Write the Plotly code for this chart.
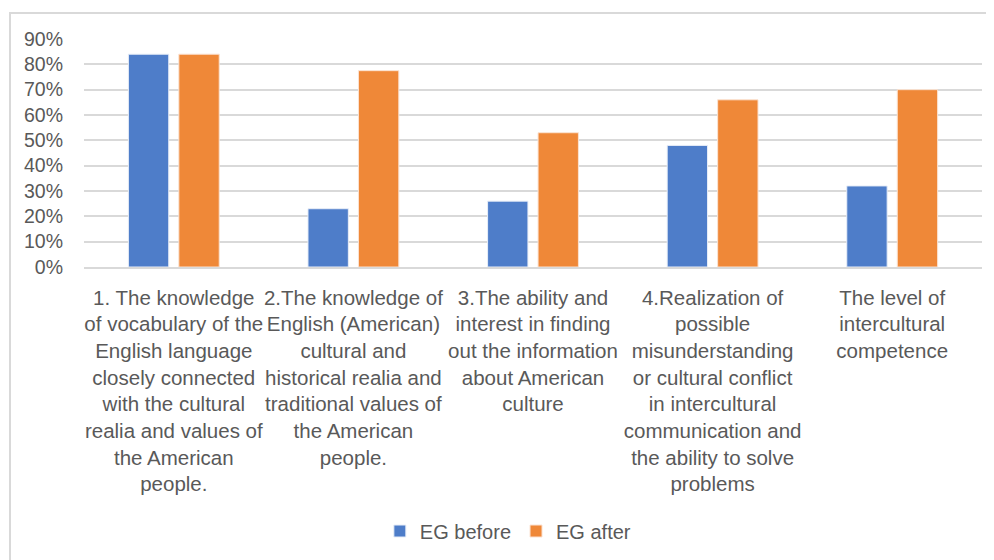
import plotly.graph_objects as go

categories = [
    "1. The knowledge<br>of vocabulary of the<br>English language<br>closely connected<br>with the cultural<br>realia and values of<br>the American<br>people.",
    "2.The knowledge of<br>English (American)<br>cultural and<br>historical realia and<br>traditional values of<br>the American<br>people.",
    "3.The ability and<br>interest in finding<br>out the information<br>about American<br>culture",
    "4.Realization of<br>possible<br>misunderstanding<br>or cultural conflict<br>in intercultural<br>communication and<br>the ability to solve<br>problems",
    "The level of<br>intercultural<br>competence",
]
eg_before = [0.84, 0.23, 0.26, 0.48, 0.32]
eg_after = [0.84, 0.775, 0.53, 0.66, 0.70]
series_names = ["EG before", "EG after"]
y_ticks = [0, 0.1, 0.2, 0.3, 0.4, 0.5, 0.6, 0.7, 0.8, 0.9]

FONT = "Liberation Sans, Arial, sans-serif"
GRAY = "#595959"

# page body has an 8px margin, so the figure is laid out 8px up/left
L, T, B = 76, 31, 301
PW, PH = 898, 228

fig = go.Figure()
fig.add_trace(go.Bar(x=categories, y=eg_before, name=series_names[0],
                     marker=dict(color="#4e7dc9", line=dict(color="#e8eef8", width=1))))
fig.add_trace(go.Bar(x=categories, y=eg_after, name=series_names[1],
                     marker=dict(color="#ef8838", line=dict(color="#fbe3d2", width=1))))

fig.update_layout(
    width=994, height=560,
    margin=dict(l=L, r=994 - L - PW, t=T, b=B),
    paper_bgcolor="white", plot_bgcolor="white",
    barmode="group", bargap=0.438, bargroupgap=0.2,
    font=dict(family=FONT, size=20, color=GRAY),
    showlegend=True,
    legend=dict(orientation="h", x=0.472, xanchor="center", y=-1.158, yanchor="middle",
                font=dict(size=20, color=GRAY), itemwidth=30, traceorder="normal"),
    xaxis=dict(showgrid=False, showline=True, linecolor="#d9d9d9", linewidth=2,
               ticks="", tickfont=dict(size=20.5, color=GRAY), tickangle=0,
               ticklabelstandoff=11),
    yaxis=dict(range=[0, 0.9], tickvals=y_ticks, tickformat=".0%",
               showgrid=True, gridcolor="#d9d9d9", gridwidth=2,
               zeroline=False, showline=False, ticks="",
               tickfont=dict(size=19.5, color=GRAY), ticklabelstandoff=20),
    shapes=[dict(type="rect", xref="paper", yref="paper",
                 x0=(2 - L) / PW, x1=(1000 - L) / PW,
                 y0=-300 / PH, y1=(PH + T - 5) / PH,
                 line=dict(color="#d9d9d9", width=2), layer="below")],
)

fig.write_html("out.html")
